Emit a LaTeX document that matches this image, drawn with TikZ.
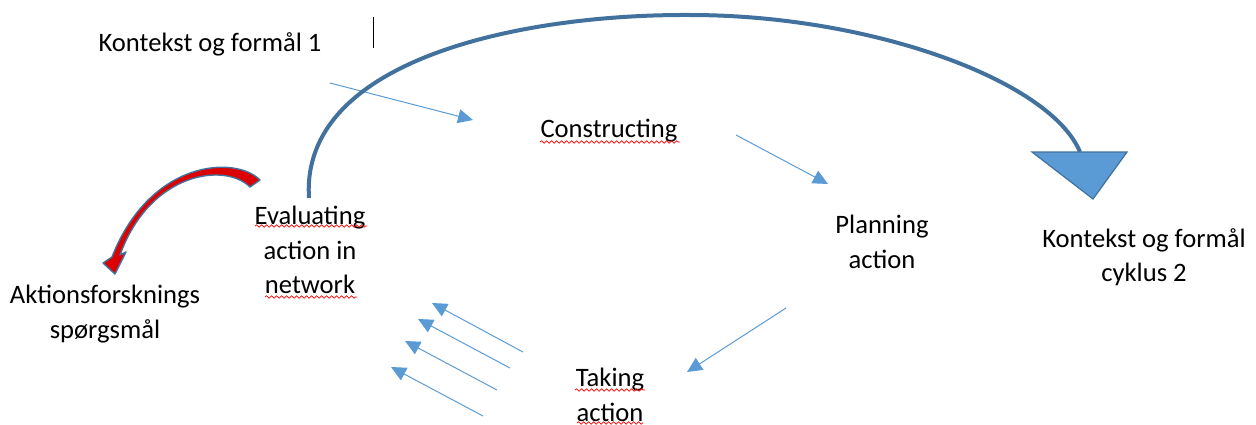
\documentclass[tikz,border=0pt]{standalone}
\usepackage{fontspec}
\setmainfont{Carlito}
\usetikzlibrary{arrows.meta,decorations.pathmorphing}
\definecolor{arcblue}{RGB}{65,113,156}
\definecolor{flowblue}{RGB}{91,155,213}
\definecolor{alarmred}{RGB}{220,0,0}

\begin{document}
\begin{tikzpicture}[>=Triangle, x=0.5pt, y=-0.5pt,
  every node/.style={font=\fontsize{13.3}{17.2}\selectfont, inner sep=0pt},
  stage/.style={align=center},
  flow/.style={draw=flowblue, line width=0.5pt, -{Triangle[length=7.5pt,width=7pt]}},
  squiggle/.style={draw=red, line width=0.35pt,
    decoration={snake, segment length=2.5pt, amplitude=0.6pt}, decorate}]
  % Canvas
  \useasboundingbox (0,0) rectangle (1256,424);
  %
  % Stages
  \node[anchor=base] (k1) at (210,51) {Kontekst og formål 1};
  \node[anchor=base] (cons) at (609,137) {Constructing};
  \node[stage] (plan) at (882,242) {Planning\\action};
  \node[stage] (take) at (610,395) {Taking\\action};
  \node[stage] (eval) at (310,250) {Evaluating\\action in\\network};
  \node[stage] (k2) at (1144,257) {Kontekst og formål\\cyklus 2};
  \node[stage] (aks) at (105,314) {Aktionsforsknings\\spørgsmål};
  %
  % Text cursor
  \draw[line width=0.5pt] (373,17) -- (373,48);
  %
  % Spelling marks
  \draw[squiggle] (540,142) -- (680,142);
  \draw[squiggle] (255,226) -- (367,226);
  \draw[squiggle] (265,297) -- (357,297);
  \draw[squiggle] (575,390) -- (645,390);
  \draw[squiggle] (577,423) -- (643,423);
  %
  % Cycle arrows
  \coordinate (a1s) at (330,83);  \coordinate (a1e) at (473,120);
  \coordinate (a2s) at (736,135); \coordinate (a2e) at (828,184);
  \coordinate (a3s) at (786,308); \coordinate (a3e) at (687,372);
  \draw[flow] (a1s) -- (a1e);
  \draw[flow] (a2s) -- (a2e);
  \draw[flow] (a3s) -- (a3e);
  \foreach \i/\tx/\ty/\hx/\hy in {1/523/352/432/303, 2/510/368/418/319,
                                  3/497/390/405/341, 4/483/416/391/367}{
    \coordinate (fbs\i) at (\tx,\ty);
    \coordinate (fbe\i) at (\hx,\hy);
    \draw[flow] (fbs\i) -- (fbe\i);
  }
  %
  % Big arc to cycle 2
  \coordinate (tl) at (1032,152);
  \coordinate (tr) at (1127,152);
  \coordinate (tb) at (1093,199);
  \draw[arcblue, line width=2pt] (309,198) .. controls (300,60) and (520,14) .. (690,15)
    .. controls (870,15) and (1050,80) .. (1080,152);
  \draw[fill=flowblue, draw=arcblue, line width=0.6pt] (tl) -- (tr) -- (tb) -- cycle;
  %
  % Red curved arrow
  \draw[fill=alarmred, draw=arcblue, line width=0.7pt, line join=round]
    (260,180) .. controls (235,155) and (150,160) .. (112,257)
    -- (103,263) -- (115,274) -- (126,252) -- (120,255)
    .. controls (150,172) and (225,162) .. (250,187) -- cycle;
  %
\end{tikzpicture}
\end{document}
